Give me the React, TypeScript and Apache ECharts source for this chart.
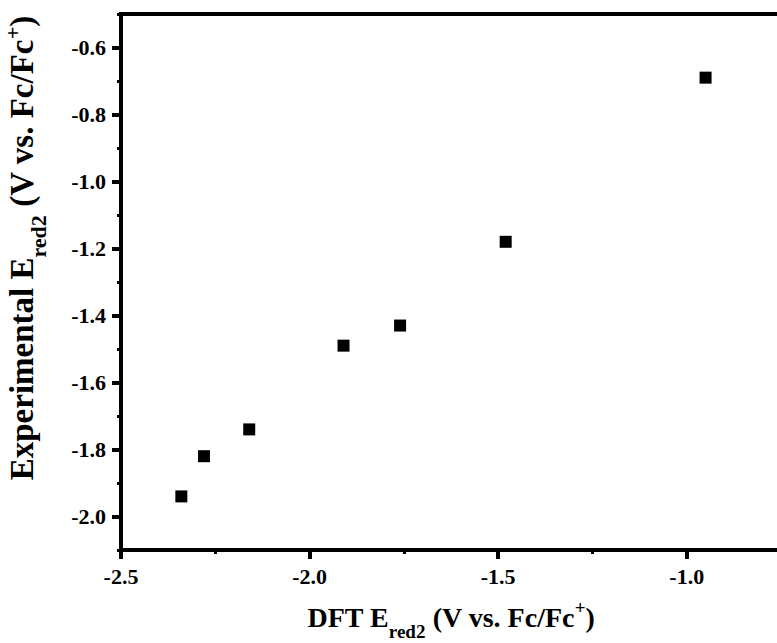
import React, { useEffect, useRef } from "react";
import * as echarts from "echarts";

const dftValues = [-2.34, -2.28, -2.16, -1.91, -1.76, -1.48, -0.95];
const expValues = [-1.94, -1.82, -1.74, -1.49, -1.43, -1.18, -0.69];

const xMajorTicks = [-2.5, -2.0, -1.5, -1.0];
const xMinorTicks = [-2.25, -1.75, -1.25];
const yMajorTicks = [-2.0, -1.8, -1.6, -1.4, -1.2, -1.0, -0.8, -0.6];
const yMinorTicks = [-2.1, -1.9, -1.7, -1.5, -1.3, -1.1, -0.9, -0.7, -0.5];

const xTitle = "DFT E{sub|red2} (V vs. Fc/Fc{sup|+})";
const yTitle = "Experimental E{sub|red2} (V vs. Fc/Fc{sup|+})";

const FONT = "Liberation Serif";

function titleStyle(fs: number, subFs: number, lh: number, supPad: number, padding: number[]) {
  return {
    fontSize: fs,
    fontWeight: "bold",
    fontFamily: FONT,
    color: "#000",
    lineHeight: lh,
    padding,
    rich: {
      sub: {
        fontSize: subFs,
        fontWeight: "bold",
        fontFamily: FONT,
        color: "#000",
        lineHeight: subFs,
        verticalAlign: "bottom",
      },
      sup: {
        fontSize: subFs,
        fontWeight: "bold",
        fontFamily: FONT,
        color: "#000",
        lineHeight: subFs,
        verticalAlign: "top",
        padding: [supPad, 0, 0, 0],
      },
    },
  };
}

export default function App() {
  const ref = useRef<HTMLDivElement>(null);

  useEffect(() => {
    if (!ref.current) return;
    const chart = echarts.init(ref.current, null, { renderer: "svg" });

    const data = dftValues.map((x, i) => [x, expValues[i]]);
    const fmt = (v: number) => v.toFixed(1);

    chart.setOption({
      animation: false,
      backgroundColor: "#fff",
      textStyle: { fontFamily: FONT, fontWeight: "bold", color: "#000" },
      grid: {
        left: 121,
        top: 14,
        right: -4,
        bottom: 93,
        show: true,
        borderColor: "#000",
        borderWidth: 4,
        backgroundColor: "transparent",
        containLabel: false,
        outerBoundsMode: "none",
      },
      xAxis: [
        {
          type: "value",
          position: "bottom",
          min: -2.5,
          max: -0.75,
          name: xTitle,
          nameLocation: "middle",
          nameGap: 44,
          nameMoveOverlap: false,
          nameTextStyle: titleStyle(28, 19, 47, 4, [0, 0, 0, 0]),
          axisLine: { show: true, lineStyle: { color: "#000", width: 4, opacity: 1 } },
          axisTick: {
            show: true,
            inside: false,
            length: 9,
            lineStyle: { color: "#000", width: 4, opacity: 1 },
            customValues: xMajorTicks,
          },
          axisLabel: {
            show: true,
            margin: 15,
            fontSize: 22,
            fontWeight: 700,
            fontFamily: FONT,
            color: "#000",
            customValues: xMajorTicks,
            formatter: fmt,
          },
          splitLine: { show: false },
        },
        {
          type: "value",
          position: "bottom",
          min: -2.5,
          max: -0.75,
          axisLine: { show: false },
          axisTick: {
            show: true,
            inside: false,
            length: 4,
            lineStyle: { color: "#000", width: 3, opacity: 1 },
            customValues: xMinorTicks,
          },
          axisLabel: { show: false },
          splitLine: { show: false },
        },
      ],
      yAxis: [
        {
          type: "value",
          position: "left",
          min: -2.1,
          max: -0.5,
          name: yTitle,
          nameLocation: "middle",
          nameGap: 72,
          nameMoveOverlap: false,
          nameTextStyle: titleStyle(33, 22, 55, 7, [0, 0, 0, 68]),
          axisLine: { show: true, lineStyle: { color: "#000", width: 4, opacity: 1 } },
          axisTick: {
            show: true,
            inside: false,
            length: 9,
            lineStyle: { color: "#000", width: 4, opacity: 1 },
            customValues: yMajorTicks,
          },
          axisLabel: {
            show: true,
            margin: 15,
            fontSize: 22,
            fontWeight: 700,
            fontFamily: FONT,
            color: "#000",
            customValues: yMajorTicks,
            formatter: fmt,
          },
          splitLine: { show: false },
        },
        {
          type: "value",
          position: "left",
          min: -2.1,
          max: -0.5,
          axisLine: { show: false },
          axisTick: {
            show: true,
            inside: false,
            length: 4,
            lineStyle: { color: "#000", width: 3, opacity: 1 },
            customValues: yMinorTicks,
          },
          axisLabel: { show: false },
          splitLine: { show: false },
        },
      ],
      series: [
        {
          type: "scatter",
          xAxisIndex: 0,
          yAxisIndex: 0,
          symbol: "rect",
          symbolSize: 12,
          itemStyle: { color: "#000", opacity: 1 },
          emphasis: { disabled: true },
          data,
        },
      ],
    });

    return () => chart.dispose();
  }, []);

  return (
    <div
      ref={ref}
      style={{
        position: "fixed",
        left: 0,
        top: 0,
        width: 777,
        height: 643,
        overflow: "hidden",
        background: "#fff",
      }}
    />
  );
}
